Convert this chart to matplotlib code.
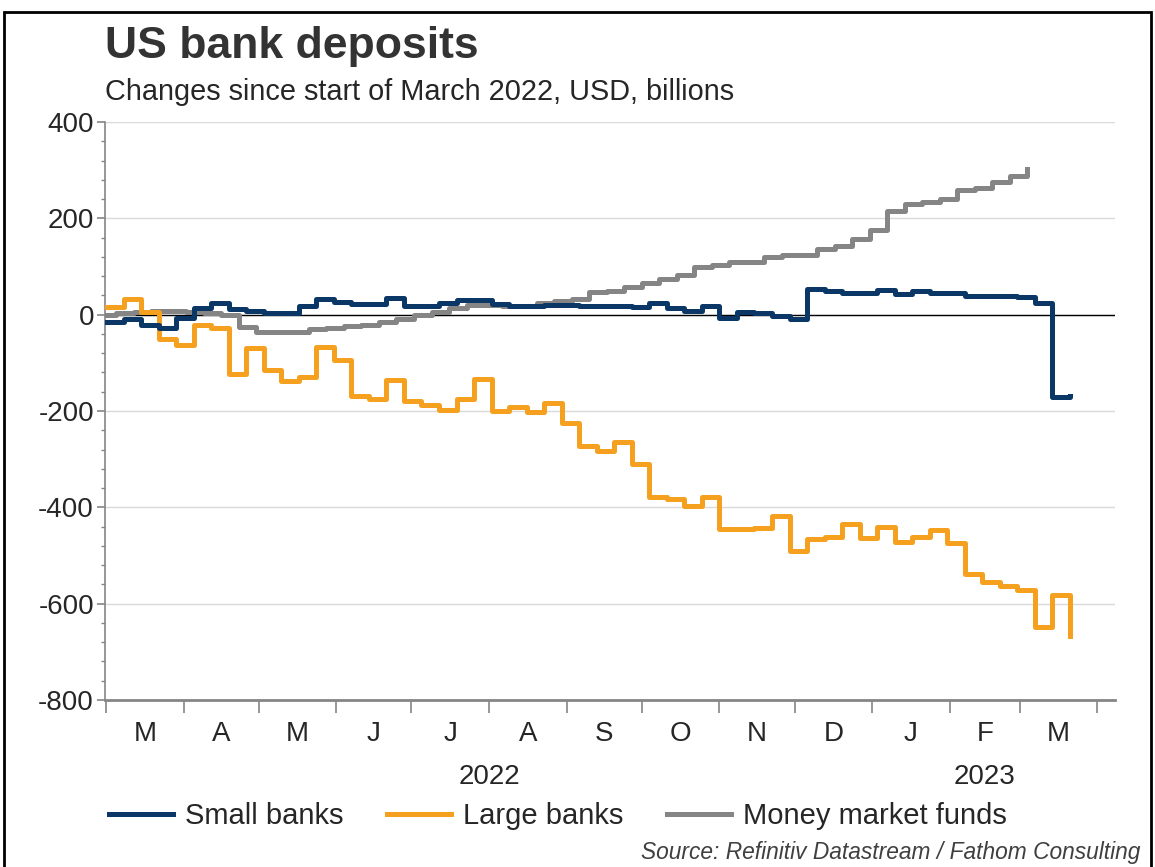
import matplotlib.pyplot as plt
import matplotlib.ticker as mticker
import pandas as pd
from matplotlib.patches import Rectangle

# weekly changes since start of March 2022, USD bn
small_banks = [-15, -8, -22, -28, -6, 13, 25, 11, 7, 3, 3, 19, 32, 26, 23, 23,
               35, 19, 19, 24, 31, 30, 23, 17, 17, 21, 21, 18, 18, 18, 15, 24,
               13, 8, 18, -6, 5, 3, -3, -8, 54, 50, 44, 44, 52, 42, 50, 45,
               45, 38, 38, 38, 36, 24, -171, -168]
large_banks = [15, 32, 5, -50, -63, -22, -28, -123, -70, -114, -138, -129, -67,
               -95, -168, -176, -135, -180, -188, -198, -176, -133, -201, -191,
               -202, -183, -224, -272, -283, -265, -310, -378, -383, -398, -378,
               -445, -445, -442, -418, -490, -465, -461, -435, -464, -441, -472,
               -461, -447, -474, -538, -556, -563, -571, -648, -581, -668]
money_market = [0, 3, 5, 8, 8, 5, 4, 0, -26, -35, -36, -35, -30, -27, -24, -22,
                -16, -8, -1, 6, 13, 20, 20, 17, 18, 25, 29, 33, 48, 50, 57, 65,
                74, 83, 99, 103, 109, 109, 119, 123, 123, 136, 142, 158, 175,
                216, 229, 234, 240, 258, 262, 276, 288, 303]

bank_dates = pd.date_range('2022-03-01', periods=len(small_banks), freq='7D')
mmf_dates = pd.date_range('2022-02-26', periods=len(money_market), freq='7D')

month_starts = pd.date_range('2022-03-01', '2023-04-01', freq='MS')
month_letters = ['M', 'A', 'M', 'J', 'J', 'A', 'S', 'O', 'N', 'D', 'J', 'F', 'M']
years = ['2022', '2023']
year_spans = [('2022-03-01', '2023-01-01'), ('2023-01-01', '2023-04-01')]

navy = '#0b3767'
orange = '#f5a01e'
grey = '#858585'
text_col = '#262626'

plt.rcParams['font.family'] = ['Liberation Sans', 'DejaVu Sans']
plt.rcParams['axes.unicode_minus'] = False

fig = plt.figure(figsize=(11.55, 8.67), dpi=100)
ax = fig.add_axes([105 / 1155, 1 - 700 / 867, 1010 / 1155, 578 / 867])

ax.plot(bank_dates, small_banks, color=navy, lw=3.6, drawstyle='steps-post',
        label='Small banks', zorder=5)
ax.plot(bank_dates, large_banks, color=orange, lw=3.6, drawstyle='steps-post',
        label='Large banks', zorder=4)
ax.plot(mmf_dates, money_market, color=grey, lw=3.6, drawstyle='steps-post',
        label='Money market funds', zorder=3)

ax.axhline(0, color='black', lw=1, zorder=2)

ax.set_ylim(-800, 400)
ax.set_xlim(pd.Timestamp('2022-02-28 14:00'), pd.Timestamp('2023-04-08'))

ax.yaxis.set_major_locator(mticker.MultipleLocator(200))
ax.yaxis.set_minor_locator(mticker.MultipleLocator(40))
ax.grid(axis='y', which='major', color='#d9d9d9', lw=1)
ax.set_axisbelow(True)
ax.tick_params(axis='y', which='major', length=6, width=1.2, color=grey,
               labelsize=20, labelcolor=text_col, pad=2)
ax.tick_params(axis='y', which='minor', length=3, width=1, color=grey)

mid_months = [s + (e - s) / 2 for s, e in zip(month_starts[:-1], month_starts[1:])]
ax.set_xticks(month_starts)
ax.set_xticklabels([])
ax.set_xticks(mid_months, minor=True)
ax.set_xticklabels(month_letters, minor=True)
ax.tick_params(axis='x', which='major', length=9, width=1.2, color=grey)
ax.tick_params(axis='x', which='minor', length=0, labelsize=20,
               labelcolor=text_col, pad=15)

for s in ['top', 'right']:
    ax.spines[s].set_visible(False)
ax.spines['left'].set_color(grey)
ax.spines['left'].set_linewidth(1.2)
ax.spines['bottom'].set_color(grey)
ax.spines['bottom'].set_linewidth(2)

for yr, (s, e) in zip(years, year_spans):
    s, e = pd.Timestamp(s), pd.Timestamp(e)
    ax.text(s + (e - s) / 2, -0.133, yr, transform=ax.get_xaxis_transform(),
            ha='center', va='center', fontsize=20, color=text_col)

fig.legend(loc='center', bbox_to_anchor=(558 / 1155, 1 - 816 / 867), ncol=3,
           frameon=False, fontsize=21, handlelength=2.2, columnspacing=1.5,
           handletextpad=0.4, labelcolor=text_col)

fig.text(105 / 1155, 1 - 58 / 867, 'US bank deposits', fontsize=32,
         fontweight='bold', color='#333333', va='baseline')
fig.text(105 / 1155, 1 - 100 / 867, 'Changes since start of March 2022, USD, billions',
         fontsize=20.8, color=text_col, va='baseline')
fig.text(1140 / 1155, 1 - 859 / 867, 'Source: Refinitiv Datastream / Fathom Consulting',
         fontsize=16.4, style='italic', color='#404040', ha='right', va='baseline')

fig.patches.append(Rectangle((4 / 1155, -0.05), 1147 / 1155, 1.05 - 12 / 867,
                             transform=fig.transFigure, fill=False,
                             edgecolor='black', lw=2))

fig.savefig('out.png', dpi=100)
